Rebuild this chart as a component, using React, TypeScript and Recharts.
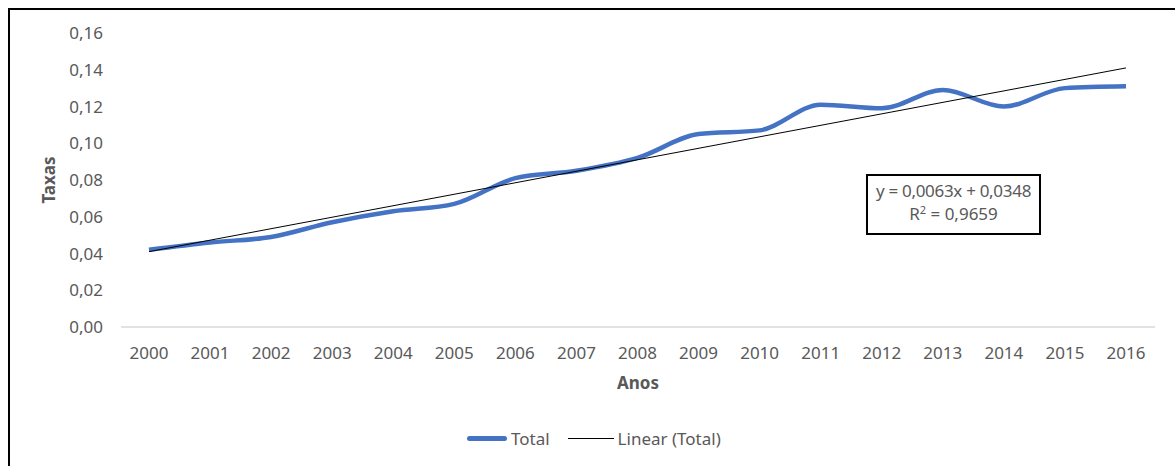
import { LineChart, Line, XAxis, YAxis } from "recharts";

const years = ["2000", "2001", "2002", "2003", "2004", "2005", "2006", "2007", "2008", "2009", "2010", "2011", "2012", "2013", "2014", "2015", "2016"];
const totalRates = [0.042, 0.046, 0.049, 0.057, 0.063, 0.067, 0.081, 0.085, 0.092, 0.105, 0.107, 0.121, 0.119, 0.129, 0.12, 0.13, 0.131];
// trend line ends, as read at 2000 and 2016
const trendEnds = [0.041, 0.141];
const yTicks = [0, 0.02, 0.04, 0.06, 0.08, 0.1, 0.12, 0.14, 0.16];

const data = years.map((year, i) => ({
  year,
  total: totalRates[i],
  trend: i === 0 ? trendEnds[0] : i === years.length - 1 ? trendEnds[1] : null,
}));

const font = "'Noto Sans', sans-serif";
const grey = "#595959";
const fmt = (v: number) => v.toFixed(2).replace(".", ",");

export default function App() {
  return (
    <div style={{ position: "relative", width: 1175, height: 466, fontFamily: font, color: grey }}>
      <style>{"body{margin:0}"}</style>
      <div
        style={{
          position: "absolute",
          left: 8,
          top: 8,
          width: 1167,
          height: 458,
          borderTop: "2px solid #000",
          borderLeft: "2px solid #000",
        }}
      />
      <LineChart
        width={1175}
        height={466}
        data={data}
        margin={{ top: 33, right: 20, bottom: 99, left: 0 }}
        style={{ position: "absolute", left: 0, top: 0 }}
      >
        <XAxis
          dataKey="year"
          height={40}
          padding={{ left: 28, right: 29 }}
          axisLine={{ stroke: "#d9d9d9", strokeWidth: 1.5 }}
          tickLine={false}
          tickMargin={14}
          tick={{ fill: grey, fontSize: 17, fontFamily: font }}
          interval={0}
          label={{
            content: ({ viewBox }: any) => (
              <text
                x={viewBox.x + viewBox.width / 2}
                y={viewBox.y + 62}
                textAnchor="middle"
                fill={grey}
                fontSize={17}
                fontWeight="bold"
                fontFamily={font}
              >
                Anos
              </text>
            ),
          }}
        />
        <YAxis
          width={121}
          domain={[0, 0.16]}
          ticks={yTicks}
          tickFormatter={fmt}
          axisLine={false}
          tickLine={false}
          tickMargin={12}
          tick={{ fill: grey, fontSize: 17, fontFamily: font }}
          label={{
            content: ({ viewBox }: any) => {
              const cx = 50;
              const cy = viewBox.y + viewBox.height / 2;
              return (
                <text
                  x={cx}
                  y={cy}
                  transform={`rotate(-90, ${cx}, ${cy})`}
                  textAnchor="middle"
                  dominantBaseline="middle"
                  fill={grey}
                  fontSize={17}
                  fontWeight="bold"
                  fontFamily={font}
                >
                  Taxas
                </text>
              );
            },
          }}
        />
        <Line
          dataKey="total"
          type="monotone"
          stroke="#4472C4"
          strokeWidth={4.5}
          dot={false}
          isAnimationActive={false}
        />
        <Line
          dataKey="trend"
          type="linear"
          stroke="#000"
          strokeWidth={1}
          dot={false}
          connectNulls
          isAnimationActive={false}
        />
      </LineChart>

      <div
        style={{
          position: "absolute",
          left: 866,
          top: 174,
          width: 171,
          height: 54,
          border: "2px solid #000",
          background: "#fff",
          textAlign: "center",
          fontSize: 17,
          lineHeight: "23px",
          paddingTop: 3,
          boxSizing: "content-box",
          whiteSpace: "nowrap",
        }}
      >
        <div style={{ letterSpacing: -0.3 }}>y = 0,0063x + 0,0348</div>
        <div>
          R<sup style={{ fontSize: 11, verticalAlign: "6px", lineHeight: 0 }}>2</sup> = 0,9659
        </div>
      </div>

      <div style={{ position: "absolute", left: 467, top: 427, display: "flex", alignItems: "center", fontSize: 17 }}>
        <span style={{ display: "inline-block", width: 40, height: 5, borderRadius: 3, background: "#4472C4", marginRight: 4 }} />
        <span>Total</span>
        <span style={{ display: "inline-block", width: 46, height: 1, background: "#000", marginLeft: 18, marginRight: 4 }} />
        <span>Linear (Total)</span>
      </div>
    </div>
  );
}
